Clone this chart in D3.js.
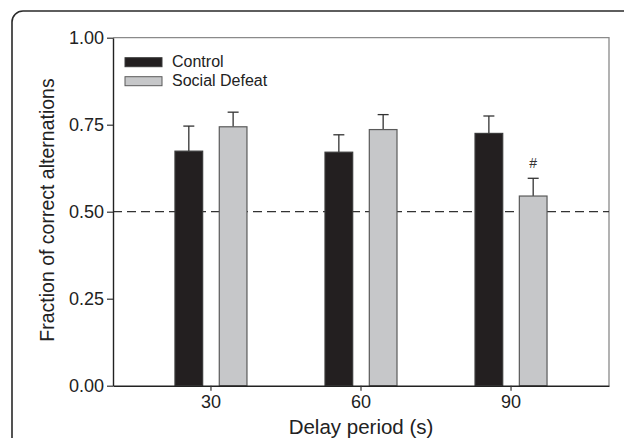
<!DOCTYPE html>
<html>
<head>
<meta charset="utf-8">
<script src="https://cdn.jsdelivr.net/npm/d3@7"></script>
<style>
  body { margin: 0; background: #fff; }
  svg { display: block; font-family: "Liberation Sans", Arial, sans-serif; }
</style>
</head>
<body>
<div id="chart"></div>
<script>
// data
const delays = [30, 60, 90];
const seriesNames = ["Control", "Social Defeat"];
const controlMean = [0.674, 0.671, 0.725];
const controlSem = [0.072, 0.050, 0.050];
const defeatMean = [0.744, 0.736, 0.545];
const defeatSem = [0.042, 0.043, 0.051];
const defeatMarks = ["", "", "#"];
const yTicks = [0, 0.25, 0.5, 0.75, 1.0];
const chanceLevel = 0.5;

const colors = { "Control": "#231f20", "Social Defeat": "#c6c7c9" };
const strokes = { "Control": "#3a3a3a", "Social Defeat": "#5a5a5a" };

const W = 624, H = 438;
const margin = { top: 37.7, right: 15, bottom: 52.3, left: 113 },
    width = W - margin.left - margin.right,
    height = H - margin.top - margin.bottom;

const rows = [];
delays.forEach((d, i) => {
    rows.push({ delay: d, series: "Control", mean: controlMean[i], sem: controlSem[i], mark: "" });
    rows.push({ delay: d, series: "Social Defeat", mean: defeatMean[i], sem: defeatSem[i], mark: defeatMarks[i] });
});

const svg = d3.select("#chart").append("svg")
    .attr("width", W)
    .attr("height", H);

// rounded outer frame, runs off the right and bottom edges
svg.append("rect")
    .attr("x", 12).attr("y", 11)
    .attr("width", 700).attr("height", 500)
    .attr("rx", 11)
    .attr("fill", "none")
    .attr("stroke", "#2a2a2a")
    .attr("stroke-width", 1.6);

const g = svg.append("g").attr("transform", `translate(${margin.left},${margin.top})`);

const x0 = d3.scaleBand()
    .domain(delays)
    .range([0, width])
    .paddingInner(0)
    .paddingOuter(0.153);

const x1 = d3.scaleBand()
    .domain(seriesNames)
    .range([x0.bandwidth() / 2 - 36, x0.bandwidth() / 2 + 36])
    .paddingInner(0.375);

const y = d3.scaleLinear()
    .domain([0, 1])
    .range([height, 0]);

// top & right frame of the plot (grey)
g.append("path")
    .attr("d", `M0,${y(1)}H${width}V${height}`)
    .attr("fill", "none")
    .attr("stroke", "#8a8a8a")
    .attr("stroke-width", 1.3);

// chance line
g.append("line")
    .attr("x1", 0).attr("x2", width)
    .attr("y1", y(chanceLevel)).attr("y2", y(chanceLevel))
    .attr("stroke", "#333")
    .attr("stroke-width", 1.3)
    .attr("stroke-dasharray", "9,5");

// bars
const bars = g.selectAll(".bar")
    .data(rows)
    .enter()
    .append("g")
    .attr("transform", d => `translate(${x0(d.delay) + x1(d.series)},0)`);

bars.append("line")
    .attr("x1", x1.bandwidth() / 2).attr("x2", x1.bandwidth() / 2)
    .attr("y1", d => y(d.mean)).attr("y2", d => y(d.mean + d.sem))
    .attr("stroke", "#333").attr("stroke-width", 1.3);

bars.append("line")
    .attr("x1", x1.bandwidth() / 2 - 5.5).attr("x2", x1.bandwidth() / 2 + 5.5)
    .attr("y1", d => y(d.mean + d.sem)).attr("y2", d => y(d.mean + d.sem))
    .attr("stroke", "#333").attr("stroke-width", 1.3);

bars.append("rect")
    .attr("x", 0)
    .attr("width", x1.bandwidth())
    .attr("y", d => y(d.mean))
    .attr("height", d => y(0) - y(d.mean))
    .attr("fill", d => colors[d.series])
    .attr("stroke", d => strokes[d.series])
    .attr("stroke-width", 1.2);

bars.append("text")
    .attr("x", x1.bandwidth() / 2)
    .attr("y", d => y(d.mean + d.sem) - 10)
    .attr("text-anchor", "middle")
    .style("font-size", "14px")
    .attr("fill", "#333")
    .text(d => d.mark);

// axes
const yAxis = g.append("g")
    .call(d3.axisLeft(y).tickValues(yTicks).tickFormat(d3.format(".2f")).tickSize(6).tickPadding(3).tickSizeOuter(0));
const xAxis = g.append("g")
    .attr("transform", `translate(0,${height})`)
    .call(d3.axisBottom(x0).tickSize(5).tickPadding(5).tickSizeOuter(0));

[yAxis, xAxis].forEach(a => {
    a.select(".domain").attr("stroke", "#222").attr("stroke-width", 1.4);
    a.selectAll(".tick line").attr("stroke", "#333").attr("stroke-width", 1.2);
    a.selectAll(".tick text")
        .style("font-size", "18px")
        .style("font-family", "'Liberation Sans', Arial, sans-serif")
        .attr("fill", "#222");
});

// axis titles
svg.append("text")
    .attr("transform", `translate(53.5,210) rotate(-90)`)
    .attr("text-anchor", "middle")
    .style("font-size", "19.5px")
    .attr("fill", "#222")
    .text("Fraction of correct alternations");

svg.append("text")
    .attr("x", margin.left + width / 2)
    .attr("y", 434)
    .attr("text-anchor", "middle")
    .style("font-size", "20.5px")
    .attr("fill", "#222")
    .text("Delay period (s)");

// legend
const legend = g.selectAll(".legend")
    .data(seriesNames)
    .enter()
    .append("g")
    .attr("transform", (d, i) => `translate(12,${20 + i * 19})`);

legend.append("rect")
    .attr("x", 0).attr("y", 0)
    .attr("width", 37).attr("height", 9)
    .attr("fill", d => colors[d])
    .attr("stroke", d => strokes[d])
    .attr("stroke-width", 1);

legend.append("text")
    .attr("x", 47)
    .attr("y", 9.5)
    .style("font-size", "16px")
    .attr("fill", "#222")
    .text(d => d);
</script>
</body>
</html>
